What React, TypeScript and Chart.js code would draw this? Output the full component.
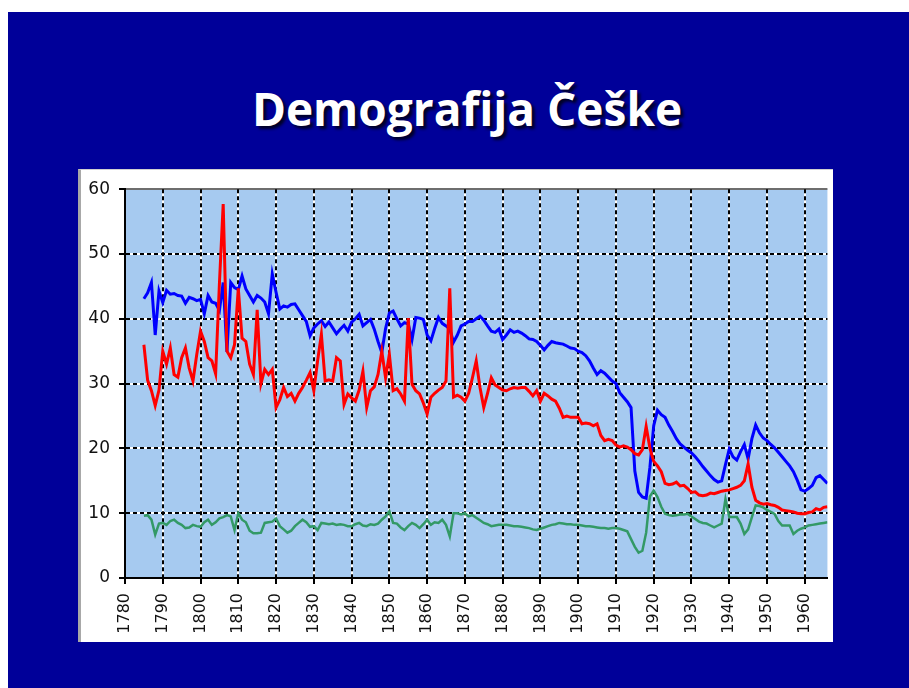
import React, { useEffect, useRef } from "react";
import { Chart, registerables } from "chart.js";

Chart.register(...registerables);

const TITLE = "Demografija Češke";
const FIRST_YEAR = 1785;

// blue series, 1785..1966
const births = [
  43.1, 44.0, 45.6, 37.5, 44.3,
  42.5, 44.4, 43.8, 43.9, 43.6, 43.5, 42.4, 43.3, 43.1, 42.8,
  43.0, 40.8, 43.6, 42.6, 42.4, 41.3, 45.6, 34.9, 45.6, 44.8,
  44.5, 46.6, 44.6, 43.6, 42.6, 43.6, 43.2, 42.6, 40.8, 46.9,
  44.1, 41.5, 42.0, 41.8, 42.2, 42.3, 41.4, 40.5, 39.6, 37.4,
  38.6, 39.2, 39.7, 38.8, 39.5, 38.6, 37.7, 38.4, 39.0, 38.1,
  39.5, 40.0, 40.7, 38.9, 39.4, 39.9, 38.4, 36.5, 34.8, 38.5,
  40.9, 41.2, 40.0, 38.9, 39.4, 39.2, 36.8, 40.2, 40.1, 39.9,
  37.5, 36.6, 38.5, 40.2, 39.3, 38.9, 38.4, 36.4, 37.5, 38.9,
  39.2, 39.6, 39.6, 40.0, 40.4, 39.8, 38.9, 38.1, 37.9, 38.4,
  36.8, 37.5, 38.3, 37.9, 38.1, 37.8, 37.4, 36.9, 36.8, 36.5,
  35.9, 35.2, 35.9, 36.5, 36.3, 36.2, 36.1, 35.8, 35.5, 35.4,
  35.0, 34.8, 34.3, 33.5, 32.4, 31.4, 32.0, 31.6, 31.0, 30.4,
  30.0, 28.6, 27.9, 27.2, 26.3, 16.5, 13.2, 12.5, 12.3, 17.1,
  23.5, 25.9, 25.2, 24.8, 23.6, 22.6, 21.5, 20.7, 20.2, 19.7,
  19.3, 18.7, 18.0, 17.2, 16.5, 15.8, 15.2, 14.8, 15.0, 17.5,
  19.9, 18.7, 18.2, 19.5, 20.6, 18.4, 21.5, 23.6, 22.4, 21.6,
  21.2, 20.6, 20.1, 19.4, 18.7, 18.0, 17.3, 16.4, 15.1, 13.6,
  13.4, 13.8, 14.3, 15.5, 15.8, 15.2, 14.6,
];

// red series, 1785..1966
const deaths = [
  36.0, 30.5, 28.9, 26.6, 29.0,
  35.0, 33.0, 35.5, 31.4, 31.0, 34.0, 35.5, 32.4, 30.4, 34.5,
  38.1, 36.5, 34.0, 33.5, 31.5, 45.4, 57.7, 35.0, 34.0, 36.0,
  44.7, 37.0, 36.5, 33.0, 31.4, 41.4, 30.0, 32.2, 31.4, 32.2,
  26.3, 27.5, 29.4, 28.0, 28.5, 27.3, 28.5, 29.4, 30.5, 31.7,
  28.9, 33.5, 37.6, 30.4, 30.6, 30.4, 34.0, 33.5, 26.8, 28.4,
  27.8, 27.3, 29.0, 31.9, 26.3, 28.9, 29.5, 31.4, 35.0, 30.9,
  34.5, 28.9, 29.2, 28.4, 27.3, 40.1, 29.9, 28.9, 28.4, 27.0,
  25.3, 27.9, 28.5, 29.0, 29.4, 30.4, 44.7, 27.9, 28.2, 27.9,
  27.3, 28.5, 30.9, 33.5, 29.4, 26.3, 28.5, 30.9, 29.8, 29.4,
  29.0, 28.9, 29.2, 29.4, 29.3, 29.4, 29.4, 28.8, 28.1, 28.9,
  27.3, 28.5, 28.1, 27.6, 27.3, 26.2, 24.8, 25.0, 24.8, 24.8,
  24.8, 23.8, 23.9, 23.8, 23.5, 23.8, 22.0, 21.2, 21.4, 21.2,
  20.5, 20.2, 20.4, 20.2, 19.8, 19.2, 19.0, 19.8, 23.4, 20.0,
  18.0, 17.3, 16.4, 14.6, 14.4, 14.5, 14.8, 14.2, 14.3, 13.8,
  13.2, 13.3, 12.8, 12.7, 12.8, 13.1, 13.0, 13.2, 13.4, 13.5,
  13.6, 13.8, 14.0, 14.3, 15.0, 17.6, 14.0, 12.0, 11.6, 11.4,
  11.5, 11.3, 11.2, 10.9, 10.5, 10.4, 10.3, 10.2, 10.0, 9.9,
  9.9, 10.1, 10.2, 10.7, 10.5, 10.9, 11.0,
];

// green series, 1785..1966
const marriages = [
  9.6, 9.7, 9.0, 6.7, 8.4,
  8.5, 8.2, 8.8, 9.0, 8.5, 8.2, 7.7, 7.8, 8.2, 8.0,
  7.9, 8.6, 9.0, 8.2, 8.6, 9.2, 9.4, 9.7, 9.5, 7.4,
  10.0, 9.0, 8.6, 7.3, 6.9, 6.9, 7.0, 8.5, 8.6, 8.7,
  9.2, 8.0, 7.5, 7.0, 7.3, 8.0, 8.5, 9.0, 8.6, 7.9,
  8.0, 7.4, 8.5, 8.4, 8.3, 8.4, 8.2, 8.3, 8.2, 8.0,
  8.0, 8.3, 8.5, 8.1, 8.0, 8.3, 8.2, 8.4, 9.0, 9.5,
  10.3, 8.5, 8.4, 7.8, 7.4, 8.0, 8.5, 8.2, 7.7, 8.3,
  9.0, 8.2, 8.6, 8.5, 9.0, 8.2, 6.4, 10.0, 10.0, 9.8,
  10.0, 9.5, 9.7, 9.3, 8.9, 8.5, 8.3, 8.0, 8.1, 8.2,
  8.2, 8.2, 8.1, 8.0, 8.0, 7.9, 7.8, 7.7, 7.5, 7.4,
  7.6, 7.8, 8.0, 8.2, 8.3, 8.5, 8.4, 8.3, 8.3, 8.2,
  8.2, 8.1, 8.0, 8.0, 7.9, 7.8, 7.7, 7.7, 7.6, 7.7,
  7.7, 7.6, 7.4, 7.2, 6.0, 4.8, 3.9, 4.2, 7.0, 12.6,
  13.5, 12.5, 11.0, 9.9, 9.7, 9.6, 9.7, 9.8, 9.8, 9.9,
  9.5, 9.1, 8.7, 8.5, 8.4, 8.1, 7.8, 8.1, 8.4, 12.2,
  9.4, 9.4, 9.4, 8.4, 6.8, 7.5, 9.4, 11.2, 11.1, 10.9,
  10.5, 10.2, 9.9, 8.8, 8.1, 8.1, 8.1, 6.8, 7.3, 7.6,
  7.8, 8.1, 8.2, 8.3, 8.4, 8.5, 8.6,
];

const xTickValues = [
  1780, 1790, 1800, 1810, 1820, 1830, 1840, 1850, 1860, 1870,
  1880, 1890, 1900, 1910, 1920, 1930, 1940, 1950, 1960,
];
const yTickValues = [0, 10, 20, 30, 40, 50, 60];

const X_MIN = 1780;
const X_MAX = 1966;
const Y_MIN = 0;
const Y_MAX = 60;

const toPoints = (vals: number[]) =>
  vals.map((v, i) => ({ x: FIRST_YEAR + i, y: v }));

const alignPx = (p: number, w: number) => Math.round(p - w / 2) + w / 2;

const plotBackground = {
  id: "plotBackground",
  beforeDraw(chart: any) {
    const { ctx, chartArea: a, scales } = chart;
    ctx.save();
    ctx.fillStyle = "#A6CAF0";
    ctx.fillRect(a.left, a.top, a.right - a.left, a.bottom - a.top);
    ctx.strokeStyle = "#FFFFFF";
    ctx.lineWidth = 2;
    ctx.beginPath();
    xTickValues.forEach((v) => {
      if (v === X_MIN) return;
      const p = alignPx(scales.x.getPixelForValue(v), 2);
      ctx.moveTo(p, a.top);
      ctx.lineTo(p, a.bottom);
    });
    yTickValues.forEach((v) => {
      if (v === Y_MIN || v === Y_MAX) return;
      const p = alignPx(scales.y.getPixelForValue(v), 2);
      ctx.moveTo(a.left, p);
      ctx.lineTo(a.right, p);
    });
    ctx.stroke();
    ctx.strokeStyle = "#6E6E6E";
    ctx.lineWidth = 2;
    ctx.beginPath();
    const t = alignPx(scales.y.getPixelForValue(Y_MAX), 2);
    ctx.moveTo(a.left, t);
    ctx.lineTo(a.right, t);
    ctx.stroke();
    ctx.restore();
  },
};

function DemoChart() {
  const ref = useRef<HTMLCanvasElement | null>(null);
  useEffect(() => {
    if (!ref.current) return;
    const chart = new Chart(ref.current, {
      type: "line",
      data: {
        datasets: [
          {
            data: toPoints(marriages),
            borderColor: "#339966",
            borderWidth: 2.5,
            pointRadius: 0,
            tension: 0,
            fill: false,
          },
          {
            data: toPoints(deaths),
            borderColor: "#FF0000",
            borderWidth: 3,
            pointRadius: 0,
            tension: 0,
            fill: false,
          },
          {
            data: toPoints(births),
            borderColor: "#0000FF",
            borderWidth: 3,
            pointRadius: 0,
            tension: 0,
            fill: false,
          },
        ],
      },
      options: {
        animation: false,
        responsive: false,
        devicePixelRatio: 1,
        layout: { padding: { top: 16, right: 1, left: 0, bottom: 0 } },
        plugins: {
          legend: { display: false },
          tooltip: { enabled: false },
          title: { display: false },
        },
        scales: {
          x: {
            type: "linear",
            min: X_MIN,
            max: X_MAX,
            afterBuildTicks: (s: any) => {
              s.ticks = xTickValues.map((v) => ({ value: v }));
            },
            afterFit: (s: any) => {
              s.height = 63;
            },
            ticks: {
              autoSkip: false,
              minRotation: 90,
              maxRotation: 90,
              padding: 9,
              color: "#111111",
              font: { family: "DejaVu Sans", size: 16 },
              callback: (v: any) => String(v),
            },
            grid: {
              color: (c: any) =>
                c.tick && c.tick.value === X_MIN ? "rgba(0,0,0,0)" : "#000000",
              lineWidth: 2,
              tickColor: "#000000",
              tickLength: 6,
              tickWidth: 2,
            },
            border: { display: true, color: "#000000", width: 2, dash: [4, 3] },
          },
          y: {
            type: "linear",
            min: Y_MIN,
            max: Y_MAX,
            afterBuildTicks: (s: any) => {
              s.ticks = yTickValues.map((v) => ({ value: v }));
            },
            afterFit: (s: any) => {
              s.width = 44;
            },
            ticks: {
              padding: 9,
              color: "#111111",
              font: { family: "DejaVu Sans", size: 17 },
              callback: (v: any) => String(v),
            },
            grid: {
              color: (c: any) =>
                c.tick && (c.tick.value === Y_MIN || c.tick.value === Y_MAX)
                  ? "rgba(0,0,0,0)"
                  : "#000000",
              lineWidth: 2,
              tickColor: "#000000",
              tickLength: 6,
              tickWidth: 2,
            },
            border: { display: true, color: "#000000", width: 2, dash: [4, 3] },
          },
        },
      },
      plugins: [plotBackground],
    } as any);
    return () => chart.destroy();
  }, []);
  return (
    <canvas
      ref={ref}
      width={752}
      height={471}
      style={{ position: "absolute", left: 81, top: 170, width: 752, height: 471 }}
    />
  );
}

export default function App() {
  return (
    <div
      style={{
        position: "fixed",
        left: 0,
        top: 0,
        width: 909,
        height: 688,
        background: "#FFFFFF",
        overflow: "hidden",
      }}
    >
      <div
        style={{
          position: "absolute",
          left: 8,
          top: 12,
          right: 0,
          bottom: 0,
          background: "#000099",
        }}
      />
      <div
        style={{
          position: "absolute",
          left: 200,
          width: 534,
          top: 85,
          textAlign: "center",
          whiteSpace: "nowrap",
          color: "#FFFFFF",
          fontFamily: "'Open Sans', Lato, sans-serif",
          fontWeight: 700,
          fontSize: 46,
          lineHeight: 1,
          textShadow: "3px 3px 3px rgba(0,0,0,0.75)",
        }}
      >
        {TITLE}
      </div>
      <div
        style={{
          position: "absolute",
          left: 78,
          top: 169,
          width: 755,
          height: 473,
          background: "#FFFFFF",
          borderLeft: "3px solid #A8A8A8",
          borderTop: "1px solid #D0D0D0",
          boxSizing: "border-box",
        }}
      />
      <DemoChart />
    </div>
  );
}
